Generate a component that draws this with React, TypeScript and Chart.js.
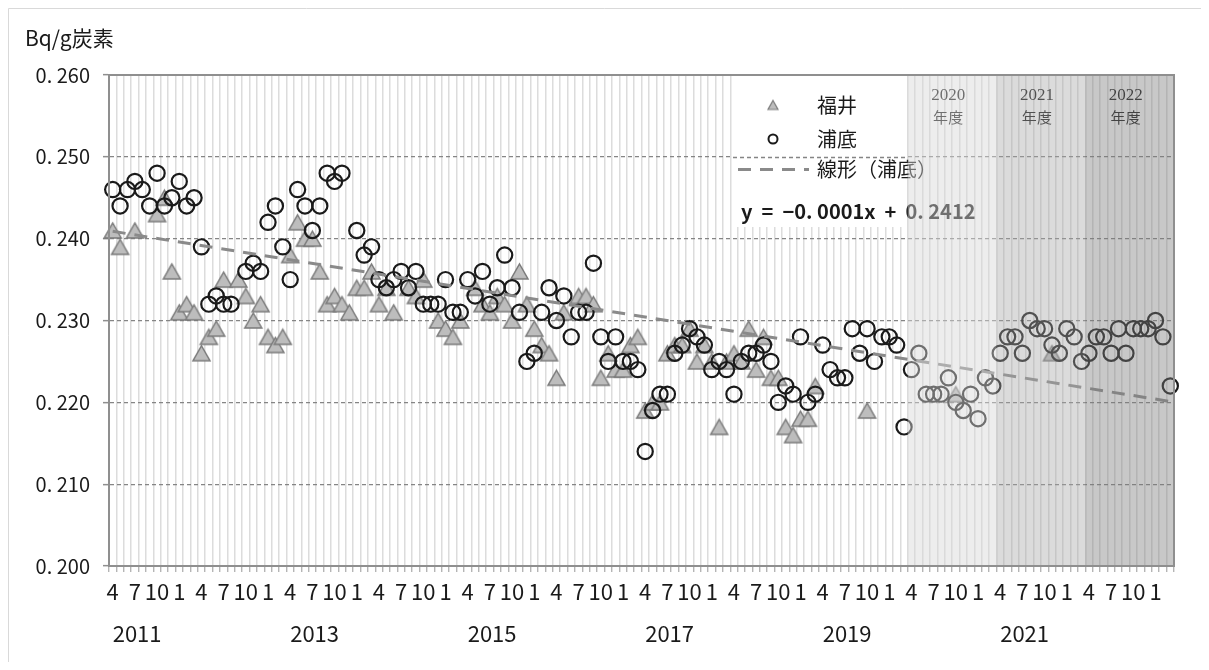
import React, { useEffect, useRef } from 'react';
import { Chart, registerables } from 'chart.js';

Chart.register(...registerables);

// ---------- data ----------
const fiscalYears = [2011, 2012, 2013, 2014, 2015, 2016, 2017, 2018, 2019, 2020, 2021, 2022];
const monthTicks = ['4', '', '', '7', '', '', '10', '', '', '1', '', ''];
const yearLabels = ['2011', '2013', '2015', '2017', '2019', '2021'];
const shadedYears = [2020, 2021, 2022];

// 福井 (null = not shown)
const fukuiValues: (number | null)[] = [
  0.241, 0.239, null, 0.241, null, null, 0.243, 0.245, 0.236, 0.231, 0.232, 0.231,
  0.226, 0.228, 0.229, 0.235, null, 0.235, 0.233, 0.230, 0.232, 0.228, 0.227, 0.228,
  0.238, 0.242, 0.240, 0.240, 0.236, 0.232, 0.233, 0.232, 0.231, 0.234, 0.234, 0.236,
  0.232, 0.234, 0.231, null, 0.234, 0.233, 0.235, null, 0.230, 0.229, 0.228, 0.230,
  null, 0.234, 0.232, 0.231, 0.233, 0.232, 0.230, 0.236, 0.232, 0.229, 0.227, 0.226,
  0.223, 0.231, null, 0.233, 0.233, 0.232, 0.223, 0.226, 0.224, 0.224, 0.227, 0.228,
  0.219, 0.220, 0.220, 0.226, 0.227, 0.227, 0.229, 0.225, 0.227, 0.225, 0.217, 0.225,
  0.226, 0.225, 0.229, 0.224, 0.228, 0.223, 0.223, 0.217, 0.216, 0.218, 0.218, 0.222,
  null, null, null, null, null, null, 0.219, null, null, null, null, null,
  null, null, null, null, null, null, 0.221, null, null, null, null, null,
  null, null, null, null, null, null, null, 0.226, null, null, null, null,
  null, null, null, null, null, null, null, null, null, null, null, null,
];

// 浦底
const urasokoValues: (number | null)[] = [
  0.246, 0.244, 0.246, 0.247, 0.246, 0.244, 0.248, 0.244, 0.245, 0.247, 0.244, 0.245,
  0.239, 0.232, 0.233, 0.232, 0.232, null, 0.236, 0.237, 0.236, 0.242, 0.244, 0.239,
  0.235, 0.246, 0.244, 0.241, 0.244, 0.248, 0.247, 0.248, null, 0.241, 0.238, 0.239,
  0.235, 0.234, 0.235, 0.236, 0.234, 0.236, 0.232, 0.232, 0.232, 0.235, 0.231, 0.231,
  0.235, 0.233, 0.236, 0.232, 0.234, 0.238, 0.234, 0.231, 0.225, 0.226, 0.231, 0.234,
  0.230, 0.233, 0.228, 0.231, 0.231, 0.237, 0.228, 0.225, 0.228, 0.225, 0.225, 0.224,
  0.214, 0.219, 0.221, 0.221, 0.226, 0.227, 0.229, 0.228, 0.227, 0.224, 0.225, 0.224,
  0.221, 0.225, 0.226, 0.226, 0.227, 0.225, 0.220, 0.222, 0.221, 0.228, 0.220, 0.221,
  0.227, 0.224, 0.223, 0.223, 0.229, 0.226, 0.229, 0.225, 0.228, 0.228, 0.227, 0.217,
  0.224, 0.226, 0.221, 0.221, 0.221, 0.223, 0.220, 0.219, 0.221, 0.218, 0.223, 0.222,
  0.226, 0.228, 0.228, 0.226, 0.230, 0.229, 0.229, 0.227, 0.226, 0.229, 0.228, 0.225,
  0.226, 0.228, 0.228, 0.226, 0.229, 0.226, 0.229, 0.229, 0.229, 0.230, 0.228, 0.222,
];

// 線形（浦底） trend line end values
const trendStart = 0.2409;
const trendEnd = 0.2201;
const equationText = 'y  =  −0. 0001x  +  0. 2412';
const unitLabel = 'Bq/g炭素';
const seriesNames = ['福井', '浦底', '線形（浦底）'];
const yMin = 0.2;
const yMax = 0.26;
const yStep = 0.01;

// ---------- styles ----------
const FONT = '"Noto Sans CJK JP", "Noto Sans", sans-serif';
const SERIF = '"Liberation Serif", "DejaVu Serif", "Noto Sans CJK JP", serif';
const TEXT = '#1a1a1a';
const GRID_H = '#858585';
const GRID_V = '#dcdcdc';
const AXIS = '#8f8f8f';
const TREND = '#8a8a8a';
const SHADES = ['rgba(215,215,215,0.45)', 'rgba(165,165,165,0.40)', 'rgba(125,125,125,0.42)'];

const W = 1193;
const H = 654;

function makeTriangle(w: number, h: number, fill: string, stroke: string, lw: number) {
  const c = document.createElement('canvas');
  c.width = w + 4;
  c.height = h + 4;
  const g = c.getContext('2d')!;
  g.fillStyle = fill;
  g.strokeStyle = stroke;
  g.lineWidth = lw;
  g.lineJoin = 'miter';
  g.beginPath();
  g.moveTo(c.width / 2, 2);
  g.lineTo(c.width / 2 + w / 2, 2 + h);
  g.lineTo(c.width / 2 - w / 2, 2 + h);
  g.closePath();
  g.fill();
  g.stroke();
  return c;
}

export default function App() {
  const ref = useRef<HTMLCanvasElement | null>(null);

  useEffect(() => {
    const canvas = ref.current;
    if (!canvas) return;

    const labels = fiscalYears.flatMap(() => monthTicks);
    const n = labels.length;
    const trendData: (number | null)[] = labels.map(() => null);
    trendData[0] = trendStart;
    trendData[n - 1] = trendEnd;

    const tri = makeTriangle(17, 15, '#bdbdbd', '#7a7a7a', 1.5);

    const decor = {
      id: 'decor',
      beforeDraw(chart: any) {
        const { ctx } = chart;
        ctx.save();
        ctx.fillStyle = '#fff';
        ctx.fillRect(0, 0, chart.width, chart.height);
        ctx.restore();
      },
      beforeDatasetsDraw(chart: any) {
        const { ctx, chartArea, scales } = chart;
        const y = scales.y;
        ctx.save();
        // legend box (white, hides vertical gridlines)
        const bx0 = 725, bx1 = 899, by1 = 219;
        ctx.fillStyle = '#fff';
        ctx.fillRect(bx0, chartArea.top, bx1 - bx0, by1 - chartArea.top);
        const gy = Math.round(y.getPixelForValue(0.25)) + 0.5;
        ctx.strokeStyle = GRID_H;
        ctx.lineWidth = 1.3;
        ctx.setLineDash([4, 3]);
        ctx.beginPath();
        ctx.moveTo(bx0, gy);
        ctx.lineTo(bx1, gy);
        ctx.stroke();
        ctx.restore();
      },
      afterDatasetsDraw(chart: any) {
        const { ctx, chartArea, scales } = chart;
        const x = scales.x;
        ctx.save();
        // legend
        const lx = 765;
        const tx = 809;
        ctx.drawImage(makeTriangle(10, 9, '#bdbdbd', '#7a7a7a', 1.2), lx - 7, 97 - 6.5);
        ctx.beginPath();
        ctx.arc(lx, 131, 4.5, 0, Math.PI * 2);
        ctx.strokeStyle = TEXT;
        ctx.lineWidth = 2;
        ctx.stroke();
        ctx.beginPath();
        ctx.setLineDash([13, 9]);
        ctx.strokeStyle = TREND;
        ctx.lineWidth = 3;
        ctx.moveTo(730, 161.5);
        ctx.lineTo(801, 161.5);
        ctx.stroke();
        ctx.setLineDash([]);
        ctx.fillStyle = TEXT;
        ctx.font = `20px ${FONT}`;
        ctx.textBaseline = 'middle';
        ctx.textAlign = 'left';
        ctx.fillText(seriesNames[0], tx, 97);
        ctx.fillText(seriesNames[1], tx, 131);
        ctx.fillText(seriesNames[2], tx, 161.5);
        ctx.font = `bold 20px ${FONT}`;
        ctx.fillText(equationText, 733, 203);

        // shaded fiscal years
        const step = x.getPixelForValue(1) - x.getPixelForValue(0);
        shadedYears.forEach((yr, k) => {
          const idx = (yr - fiscalYears[0]) * monthTicks.length;
          const left = x.getPixelForValue(idx) - step / 2;
          const right = Math.min(left + step * monthTicks.length, chartArea.right);
          const cx = (left + right) / 2 - 4;
          ctx.fillStyle = TEXT;
          ctx.textAlign = 'center';
          ctx.font = `17px ${SERIF}`;
          ctx.fillText(String(yr), cx, 88);
          ctx.font = `15px ${FONT}`;
          ctx.fillText('年度', cx, 109);
          ctx.fillStyle = SHADES[k];
          ctx.fillRect(left, chartArea.top, right - left, chartArea.bottom - chartArea.top);
        });

        // plot border
        ctx.strokeStyle = AXIS;
        ctx.lineWidth = 2;
        ctx.strokeRect(chartArea.left, chartArea.top, chartArea.right - chartArea.left, chartArea.bottom - chartArea.top);
        ctx.restore();
      },
      afterDraw(chart: any) {
        const { ctx, scales } = chart;
        const x = scales.x;
        ctx.save();
        // outer frame
        ctx.strokeStyle = '#d9d9d9';
        ctx.lineWidth = 1;
        ctx.beginPath();
        ctx.moveTo(0.5, chart.height);
        ctx.lineTo(0.5, 0.5);
        ctx.lineTo(chart.width, 0.5);
        ctx.stroke();
        // unit
        ctx.fillStyle = TEXT;
        ctx.font = `21px ${FONT}`;
        ctx.textBaseline = 'middle';
        ctx.textAlign = 'left';
        ctx.fillText(unitLabel, 17, 30);
        // year labels
        ctx.font = `22px ${FONT}`;
        yearLabels.forEach((yl) => {
          const idx = (Number(yl) - fiscalYears[0]) * monthTicks.length;
          ctx.fillText(yl, x.getPixelForValue(idx), 626);
        });
        ctx.restore();
      },
    };

    const chart = new Chart(canvas, {
      type: 'line',
      data: {
        labels,
        datasets: [
          {
            label: seriesNames[2],
            data: trendData,
            spanGaps: true,
            borderColor: TREND,
            borderWidth: 3,
            borderDash: [13, 9],
            pointRadius: 0,
            fill: false,
            order: 1,
          },
          {
            label: seriesNames[1],
            data: urasokoValues,
            showLine: false,
            pointStyle: 'circle',
            pointRadius: 7.6,
            pointBorderWidth: 2.2,
            pointBorderColor: TEXT,
            pointBackgroundColor: 'rgba(0,0,0,0)',
            order: 2,
          },
          {
            label: seriesNames[0],
            data: fukuiValues,
            showLine: false,
            pointStyle: tri as any,
            pointRadius: 8,
            order: 3,
          },
        ],
      },
      options: {
        animation: false,
        responsive: false,
        devicePixelRatio: 1,
        events: [],
        layout: { padding: { top: 67, right: W - 1166, left: 0, bottom: 0 } },
        plugins: {
          legend: { display: false },
          tooltip: { enabled: false },
          title: { display: false },
        },
        scales: {
          x: {
            type: 'category',
            offset: true,
            grid: {
              offset: true,
              color: GRID_V,
              lineWidth: 1.5,
              drawTicks: true,
              tickLength: 6,
              tickColor: '#a8a8a8',
              tickWidth: 1.2,
            },
            border: { display: true, color: AXIS, width: 2 },
            ticks: {
              autoSkip: false,
              maxRotation: 0,
              minRotation: 0,
              padding: 6,
              color: TEXT,
              font: { family: FONT, size: 22 },
            },
            afterFit: (s: any) => {
              s.height = H - 558;
            },
          },
          y: {
            min: yMin,
            max: yMax,
            grid: {
              color: GRID_H,
              lineWidth: 1.3,
              drawTicks: true,
              tickLength: 6,
              tickColor: AXIS,
              tickWidth: 1.5,
            },
            border: { display: true, color: AXIS, width: 2, dash: [4, 3] },
            ticks: {
              stepSize: yStep,
              padding: 13,
              color: TEXT,
              font: { family: FONT, size: 20 },
              callback: (v: any) => Number(v).toFixed(3).replace('.', '. '),
            },
            afterFit: (s: any) => {
              s.width = 101;
            },
          },
        },
      },
      plugins: [decor],
    } as any);

    return () => chart.destroy();
  }, []);

  return <canvas ref={ref} width={W} height={H} style={{ display: 'block', width: W, height: H }} />;
}
